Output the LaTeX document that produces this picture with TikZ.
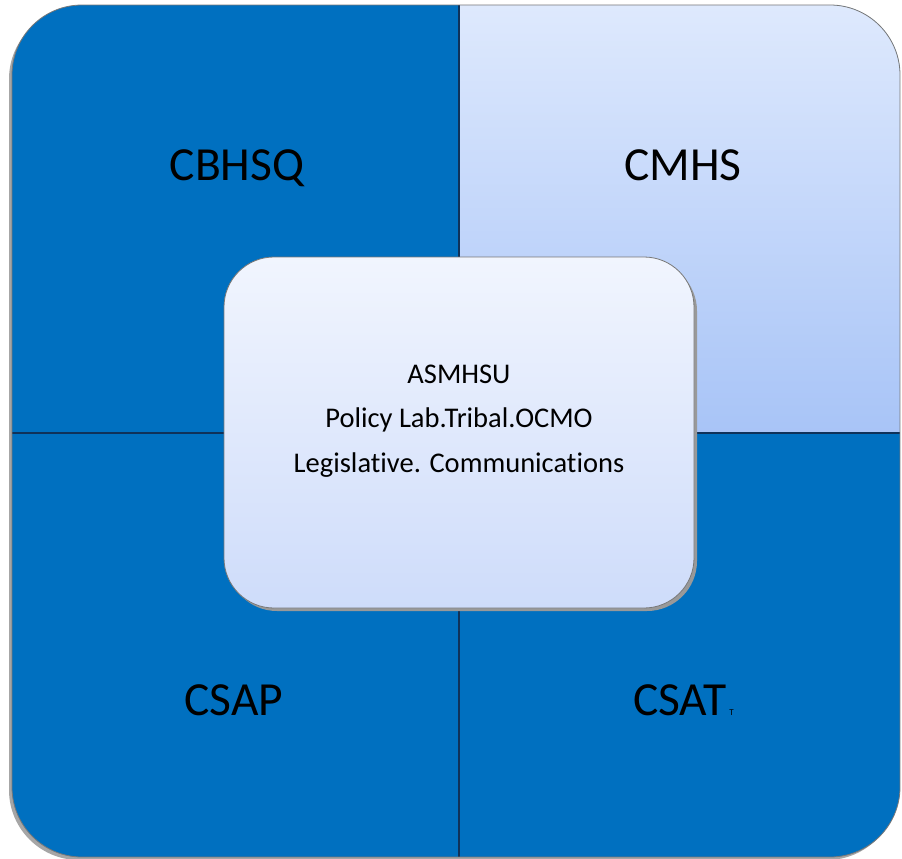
\documentclass[tikz,border=0pt]{standalone}
\usepackage{fontspec}
\setmainfont{Carlito}[Ligatures=NoCommon]
\usetikzlibrary{calc}
\definecolor{dblue}{RGB}{0,112,192}
\definecolor{ltop}{RGB}{222,233,253}
\definecolor{lbot}{RGB}{168,196,247}
\definecolor{ctop}{RGB}{241,245,254}
\definecolor{cbot}{RGB}{206,220,250}
\definecolor{edge}{RGB}{120,120,120}
\definecolor{divline}{RGB}{15,50,90}
\tikzset{
  quadlabel/.style={font=\fontsize{47.5}{56}\selectfont, text=black, inner sep=0pt, anchor=base},
  centerlabel/.style={font=\fontsize{28.5}{34}\selectfont, text=black, inner sep=0pt, anchor=base},
}
\begin{document}
\begin{tikzpicture}[x=1pt,y=-1pt]
\useasboundingbox (0,0) rectangle (902,859);
% shadow of outer shape
\fill[black!35, rounded corners=70pt] (9,9) rectangle (897,860);
\begin{scope}
  \clip[rounded corners=70pt] (12,5) rectangle (900,857);
  \fill[dblue] (12,5) rectangle (900,857);
  \shade[top color=ltop, bottom color=lbot] (459,5) rectangle (900,433);
  \draw[divline, line width=1.2pt] (459,5) -- (459,857);
  \draw[divline, line width=1.2pt] (12,433) -- (900,433);
\end{scope}
\draw[edge, line width=0.8pt, rounded corners=70pt] (12,5) rectangle (900,857);
% center box
\fill[black!40, rounded corners=50pt] (227,261) rectangle (697,611);
\shade[top color=ctop, bottom color=cbot, draw=edge, line width=0.8pt, rounded corners=50pt] (224,257) rectangle (694,608);
\node[centerlabel] (asm) at (459,383) {ASMHSU};
\node[centerlabel] (pol) at (459,427) {Policy Lab.Tribal.OCMO};
\node[centerlabel] (leg) at (459,472) {Legislative. Communications};
% quadrant labels
\node[quadlabel] (cbhsq) at (237,180) {CBHSQ};
\node[quadlabel] (cmhs) at (683,180) {CMHS};
\node[quadlabel] (csap) at (234,715) {CSAP};
\node[quadlabel] (csat) at (680,715) {CSAT};
\node[font=\fontsize{9}{10}\selectfont, inner sep=0pt, anchor=base west] (t) at ($(csat.base east)+(2,0)$) {T};
\end{tikzpicture}
\end{document}
